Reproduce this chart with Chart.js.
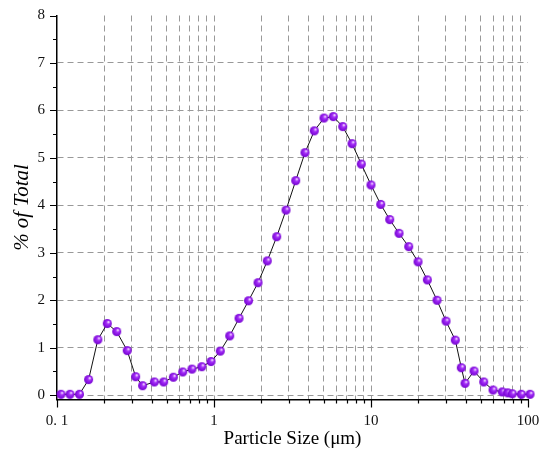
<!DOCTYPE html>
<html>
<head>
<meta charset="utf-8">
<script src="https://cdn.jsdelivr.net/npm/chart.js@4/dist/chart.umd.min.js"></script>
<style>
  html, body { margin: 0; padding: 0; background: #fff; }
  #wrap { width: 540px; height: 450px; }
</style>
</head>
<body>
<div id="wrap"><canvas id="psd"></canvas></div>
<script>
// particle size (um) and % of total
var particleSize = [0.106, 0.121, 0.139, 0.159, 0.182, 0.209, 0.240, 0.280, 0.317, 0.351,
                    0.417, 0.478, 0.551, 0.632, 0.724, 0.836, 0.957, 1.097, 1.259, 1.443,
                    1.659, 1.907, 2.185, 2.508, 2.875, 3.314, 3.798, 4.354, 5.019, 5.753,
                    6.602, 7.568, 8.675, 10.0, 11.53, 13.16, 15.08, 17.39, 19.93, 22.84,
                    26.33, 30.05, 34.43, 37.60, 39.71, 45.31, 52.23, 59.86, 68.60, 74.26,
                    79.43, 90.64, 103.0];
var percentTotal = [0.02, 0.02, 0.02, 0.33, 1.17, 1.51, 1.34, 0.94, 0.39, 0.20,
                    0.28, 0.28, 0.38, 0.49, 0.55, 0.60, 0.71, 0.93, 1.25, 1.62,
                    1.99, 2.37, 2.83, 3.34, 3.90, 4.52, 5.11, 5.57, 5.84, 5.87,
                    5.66, 5.30, 4.87, 4.43, 4.02, 3.70, 3.41, 3.13, 2.81, 2.43,
                    2.00, 1.56, 1.16, 0.58, 0.25, 0.51, 0.28, 0.11, 0.07, 0.05,
                    0.03, 0.02, 0.02];

var xTicks = [0.1, 0.2, 0.3, 0.4, 0.5, 0.6, 0.7, 0.8, 0.9,
              1, 2, 3, 4, 5, 6, 7, 8, 9,
              10, 20, 30, 40, 50, 60, 70, 80, 90, 100];
var xMajor = [0.1, 1, 10, 100];
var xLabels = ['0. 1', '1', '10', '100'];
var yTicks = [0, 0.5, 1, 1.5, 2, 2.5, 3, 3.5, 4, 4.5, 5, 5.5, 6, 6.5, 7, 7.5, 8];
var yGrid = [0, 1, 2, 3, 4, 5, 6, 7];

var serif = "'Liberation Serif', 'DejaVu Serif', serif";

function makeBall(r) {
    var c = document.createElement('canvas');
    c.width = c.height = 2 * r + 2;
    var g = c.getContext('2d');
    var cx = r + 1, cy = r + 1;
    var grad = g.createRadialGradient(cx + r * 0.3, cy - r * 0.35, r * 0.1, cx, cy, r);
    grad.addColorStop(0, '#f4dcff');
    grad.addColorStop(0.3, '#a630fa');
    grad.addColorStop(1, '#7400d0');
    g.fillStyle = grad;
    g.beginPath();
    g.arc(cx, cy, r, 0, Math.PI * 2);
    g.fill();
    return c;
}

function isMajorX(v) {
    return xMajor.some(function(m) { return Math.abs(m - v) < 1e-9; });
}

// outward tick marks, long on decades / integers, short on minors
var tickMarks = {
    id: 'tickMarks',
    afterDraw: function(chart) {
        var ctx = chart.ctx, area = chart.chartArea;
        var sx = chart.scales.x, sy = chart.scales.y;
        ctx.save();
        ctx.strokeStyle = '#000';
        ctx.lineWidth = 1.2;
        ctx.beginPath();
        xTicks.forEach(function(v) {
            var px = Math.round(sx.getPixelForValue(v)) + 0.5;
            var len = isMajorX(v) ? 8 : 4;
            ctx.moveTo(px, area.bottom);
            ctx.lineTo(px, area.bottom + len);
        });
        yTicks.forEach(function(v) {
            var py = Math.round(sy.getPixelForValue(v)) + 0.5;
            var len = (v % 1 === 0) ? 7 : 4;
            ctx.moveTo(area.left, py);
            ctx.lineTo(area.left - len, py);
        });
        ctx.stroke();
        ctx.restore();
    }
};

var ctx = document.getElementById('psd').getContext('2d');

var chart = new Chart(ctx, {
    type: 'line',
    data: {
        datasets: [{
            data: particleSize.map(function(s, i) { return {x: s, y: percentTotal[i]}; }),
            borderColor: '#111',
            borderWidth: 1,
            tension: 0,
            pointStyle: makeBall(4.5),
            pointRadius: 4.5,
            pointHoverRadius: 4.5,
            clip: false
        }]
    },
    options: {
        responsive: true,
        maintainAspectRatio: false,
        animation: false,
        events: [],
        layout: { padding: { top: 15.5, right: 12, left: 0, bottom: 0 } },
        plugins: {
            legend: { display: false },
            tooltip: { enabled: false }
        },
        scales: {
            x: {
                type: 'logarithmic',
                min: 0.1,
                max: 100,
                afterBuildTicks: function(scale) {
                    scale.ticks = xTicks.map(function(v) { return {value: v}; });
                },
                afterFit: function(scale) {
                    scale.height = 50.5;
                    scale.paddingLeft = 0;
                    scale.paddingRight = 0;
                },
                grid: {
                    drawTicks: false,
                    lineWidth: 1,
                    color: function(c) {
                        var v = c.tick ? c.tick.value : 0;
                        return (v <= 0.1 || v >= 100) ? 'rgba(0,0,0,0)' : '#999';
                    }
                },
                border: { display: true, color: '#000', width: 1.5, dash: [6, 4] },
                ticks: {
                    autoSkip: false,
                    maxRotation: 0,
                    padding: 13,
                    color: '#111',
                    font: { family: serif, size: 15 },
                    callback: function(v) {
                        for (var i = 0; i < xMajor.length; i++) {
                            if (Math.abs(xMajor[i] - v) < 1e-9) return xLabels[i];
                        }
                        return '';
                    }
                },
                title: {
                    display: true,
                    text: 'Particle Size (\u03bcm)',
                    color: '#000',
                    font: { family: serif, size: 19 },
                    padding: { top: 1, bottom: 0 }
                }
            },
            y: {
                min: -0.09,
                max: 8,
                afterBuildTicks: function(scale) {
                    scale.ticks = yTicks.map(function(v) { return {value: v}; });
                },
                afterFit: function(scale) {
                    scale.width = 57;
                    scale.paddingTop = 0;
                    scale.paddingBottom = 0;
                },
                grid: {
                    drawTicks: false,
                    lineWidth: 1,
                    color: function(c) {
                        var v = c.tick ? c.tick.value : -1;
                        return yGrid.indexOf(v) >= 0 ? '#999' : 'rgba(0,0,0,0)';
                    }
                },
                border: { display: true, color: '#000', width: 1.5, dash: [6, 4] },
                ticks: {
                    padding: 12,
                    color: '#111',
                    font: { family: serif, size: 15 },
                    callback: function(v) { return (v % 1 === 0) ? String(v) : ''; }
                },
                title: {
                    display: true,
                    text: '% of Total',
                    color: '#000',
                    font: { family: serif, size: 21, style: 'italic' },
                    padding: { top: 10, bottom: 0 }
                }
            }
        }
    },
    plugins: [tickMarks]
});
</script>
</body>
</html>
